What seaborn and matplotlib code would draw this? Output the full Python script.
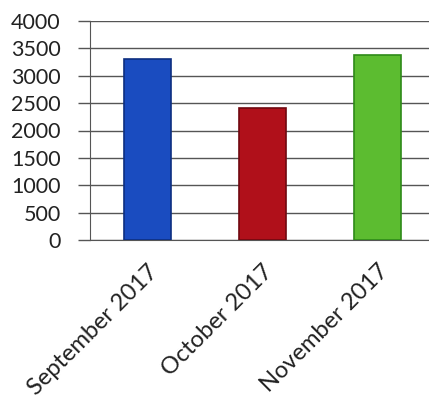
import matplotlib
matplotlib.use("Agg")
import matplotlib.pyplot as plt
import seaborn as sns
import pandas as pd

categories = ["September 2017", "October 2017", "November 2017"]
values = [3300, 2420, 3380]
colors = ["#1a4cc0", "#b0101a", "#5cbc30"]
edges = ["#0d2f80", "#700810", "#2e8a18"]
yticks = [0, 500, 1000, 1500, 2000, 2500, 3000, 3500, 4000]

sns.set_style("white")
plt.rcParams["font.family"] = ["Lato", "DejaVu Sans"]

df = pd.DataFrame({"month": categories, "value": values})

fig = plt.figure(figsize=(4.29, 3.99), dpi=100)
ax = fig.add_axes([90 / 429, 159 / 399, 345 / 429, 219 / 399])
sns.barplot(data=df, x="month", y="value", hue="month", palette=colors,
            width=0.41, legend=False, ax=ax, zorder=3, saturation=1)
for patch, ec in zip(ax.patches, edges):
    patch.set_edgecolor(ec)
    patch.set_linewidth(1.2)

ax.set_ylim(0, 4000)
ax.set_xlim(-0.5, 2.5)
ax.set_yticks(yticks)
ax.set_yticklabels([str(t) for t in yticks], fontsize=15.5, color="#222222")
ax.yaxis.grid(True, color="#555555", linewidth=1.0, zorder=0)
ax.set_axisbelow(True)
ax.set_xlabel("")
ax.set_ylabel("")

ax.set_xticks([0, 1, 2])
ax.set_xticklabels(categories, rotation=45, ha="right", rotation_mode="anchor",
                   fontsize=17, color="#222222")
ax.tick_params(axis="x", length=0, pad=15)
ax.set_xticks([-0.5, 0.5, 1.5], minor=True)
ax.tick_params(axis="x", which="minor", length=6, color="#555555", width=1)
ax.tick_params(axis="y", length=9, color="#555555", width=1, pad=12, left=True)

for s in ["top", "right"]:
    ax.spines[s].set_visible(False)
ax.spines["left"].set_color("#555555")
ax.spines["bottom"].set_color("#555555")

fig.savefig("out.png", dpi=100)
